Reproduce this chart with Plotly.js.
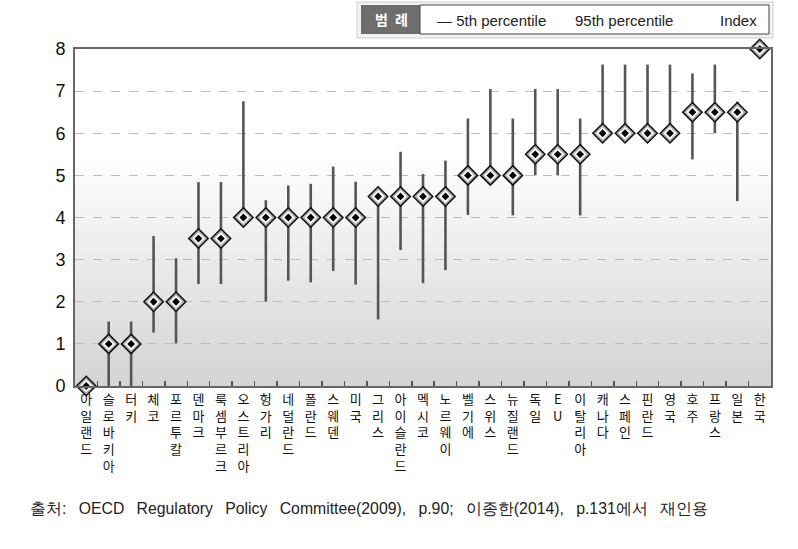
<!DOCTYPE html>
<html><head><meta charset="utf-8">
<script src="https://cdn.plot.ly/plotly-3.0.1.min.js"></script>
<style>html,body{margin:0;padding:0;background:#fff}#chart{width:798px;height:549px}</style>
</head><body><div id="chart"></div>
<script>
var countries = ['아일랜드','슬로바키아','터키','체코','포르투칼','덴마크','룩셈부르크','오스트리아','헝가리','네덜란드','폴란드','스웨덴','미국','그리스','아이슬란드','멕시코','노르웨이','벨기에','스위스','뉴질랜드','독일','EU','이탈리아','캐나다','스페인','핀란드','영국','호주','프랑스','일본','한국'];
var indexVal = [0,1,1,2,2,3.5,3.5,4,4,4,4,4,4,4.5,4.5,4.5,4.5,5,5,5,5.5,5.5,5.5,6,6,6,6,6.5,6.5,6.5,8];
var p5  = [0,0,0,1.27,1.01,2.42,2.42,4,2.0,2.5,2.46,2.73,2.41,1.58,3.23,2.44,2.75,4.06,5,4.05,5,5,4.05,6,6,6,6,5.38,6,4.39,8];
var p95 = [0,1.53,1.53,3.56,3.03,4.84,4.84,6.76,4.41,4.76,4.8,5.21,4.85,4.5,5.56,5.03,5.35,6.35,7.05,6.35,7.05,7.05,6.35,7.63,7.63,7.63,7.63,7.42,7.63,6.75,8];
var yTicks = [0,1,2,3,4,5,6,7,8];
var sourceText = '출처: OECD Regulatory Policy Committee(2009), p.90; 이종한(2014), p.131에서 재인용';

var labels = countries.map(function(c){ return c.split('').join('<br>'); });
var up = p95.map(function(v,i){ return v - indexVal[i]; });
var down = p5.map(function(v,i){ return indexVal[i] - v; });

var traces = [
  {type:'scatter', mode:'markers', x:countries, y:indexVal, cliponaxis:false,
   marker:{symbol:'diamond', size:1, color:'rgba(0,0,0,0)'},
   error_y:{type:'data', symmetric:false, array:up, arrayminus:down, width:0, thickness:2.6, color:'#555555'},
   hoverinfo:'skip', showlegend:false},
  {type:'scatter', mode:'markers', x:countries, y:indexVal, cliponaxis:false,
   marker:{symbol:'diamond', size:15, color:'#aaaaaa', line:{color:'#111', width:1.5}}, showlegend:false},
  {type:'scatter', mode:'markers', x:countries, y:indexVal, cliponaxis:false,
   marker:{symbol:'diamond', size:10, color:'#ffffff', line:{width:0}}, showlegend:false},
  {type:'scatter', mode:'markers', x:countries, y:indexVal, cliponaxis:false,
   marker:{symbol:'diamond', size:6, color:'#000000', line:{width:0}}, showlegend:false}
];

var shapes = [];
var N = 40;
for (var k=0;k<N;k++){
  var f0 = k/N, f1=(k+1)/N;
  var t = Math.min(1, f0/0.68);
  var c = Math.round(212 + (255-212)*t);
  shapes.push({type:'rect', xref:'paper', yref:'paper', x0:0, x1:1, y0:f0, y1:f1+0.002,
    fillcolor:'rgb('+c+','+c+','+c+')', line:{width:0}, layer:'below'});
}
function px(x){ return (x-75)/696; }
function py(y){ return 1+(49-y)/337; }
shapes.push({type:'rect', xref:'paper', yref:'paper', x0:px(357), x1:px(773), y0:py(38), y1:py(2), fillcolor:'#f2f2f2', line:{color:'#cfcfcf', width:1}});
shapes.push({type:'rect', xref:'paper', yref:'paper', x0:px(361), x1:px(420), y0:py(34), y1:py(5), fillcolor:'#6e6e6e', line:{width:0}});
shapes.push({type:'rect', xref:'paper', yref:'paper', x0:px(420), x1:px(769), y0:py(34), y1:py(5), fillcolor:'#ffffff', line:{color:'#444', width:1}});

var fontNum = "'Liberation Sans Narrow', 'Liberation Sans', Arial, sans-serif";
var fontKr = "'Noto Sans CJK KR', 'Noto Sans', sans-serif";
var annotations = [
  {xref:'paper', yref:'paper', x:px(391), y:py(19.5), text:'<b>범\u2002례</b>', showarrow:false, xanchor:'center', yanchor:'middle', font:{family:fontKr, size:14, color:'#ffffff'}},
  {xref:'paper', yref:'paper', x:px(435), y:py(20), text:'— 5th percentile', showarrow:false, xanchor:'left', yanchor:'middle', font:{family:fontNum, size:15, color:'#222'}},
  {xref:'paper', yref:'paper', x:px(573), y:py(20), text:'95th percentile', showarrow:false, xanchor:'left', yanchor:'middle', font:{family:fontNum, size:15, color:'#222'}},
  {xref:'paper', yref:'paper', x:px(718), y:py(20), text:'Index', showarrow:false, xanchor:'left', yanchor:'middle', font:{family:fontNum, size:15, color:'#222'}},
  {xref:'paper', yref:'paper', x:px(28), y:py(508), text:sourceText.split(' ').join(' \u2002'), showarrow:false, xanchor:'left', yanchor:'middle', font:{family:fontNum, size:15.8, color:'#222'}}
];

var layout = {
  width:798, height:549,
  margin:{l:75, r:27, t:49, b:163},
  paper_bgcolor:'#ffffff', plot_bgcolor:'rgba(0,0,0,0)',
  showlegend:false,
  xaxis:{type:'category', tickmode:'array', tickvals:countries, ticktext:labels, tickangle:0,
    tickson:'boundaries', ticks:'inside', ticklen:5, tickwidth:1.5, tickcolor:'#555',
    showgrid:false, showline:true, linecolor:'#666', linewidth:2, mirror:true, zeroline:false,
    range:[-0.5, 30.5], tickfont:{family:fontKr, size:13, color:'#111'}, fixedrange:true},
  yaxis:{range:[0,8], tickvals:yTicks, ticks:'', showline:true, linecolor:'#666', linewidth:2, mirror:true,
    showgrid:true, gridcolor:'#bbbbbb', griddash:'dash', gridwidth:1, zeroline:false,
    tickfont:{family:fontNum, size:18, color:'#111'}, ticklabelstandoff:4, fixedrange:true},
  shapes:shapes, annotations:annotations
};
Plotly.newPlot('chart', traces, layout, {displayModeBar:false, staticPlot:true});
</script></body></html>
